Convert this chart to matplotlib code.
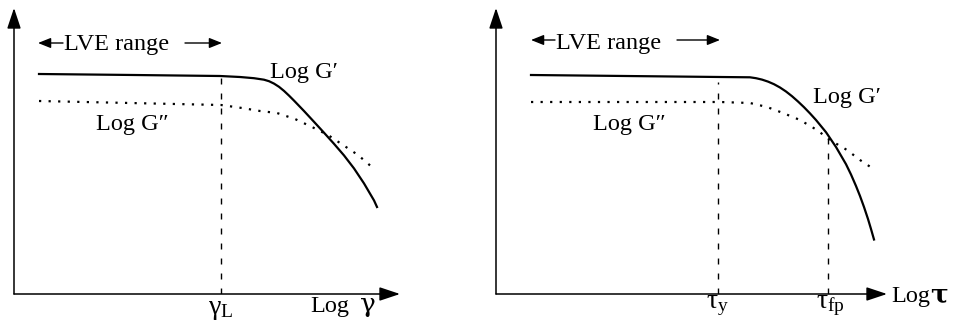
import matplotlib.pyplot as plt

plt.rcParams['font.family'] = ['Liberation Serif', 'DejaVu Serif']
plt.rcParams['mathtext.fontset'] = 'custom'
plt.rcParams['mathtext.rm'] = 'Liberation Serif'
plt.rcParams['mathtext.it'] = 'Liberation Serif:italic'

# amplitude sweep vs strain (schematic units, origin at the axes corner)
gamma_x_storage = [25, 120, 206, 226, 240, 250, 255, 260, 265, 270, 275,
                   280, 290, 300, 310, 320, 330, 340, 350, 360, 363]
gamma_storage = [220, 219, 218, 217, 215.8, 214.3, 212.8, 210.4, 207.2,
                 203.1, 198.4, 193.4, 183.0, 172.2, 161.3, 150.2, 138.6,
                 125.6, 110.6, 93.6, 87]
gamma_x_loss = [25, 207, 228, 246, 263, 281, 298, 314, 329, 344, 359]
gamma_loss = [193, 189, 186, 183, 181, 175, 167, 159, 149, 139, 126]
gamma_limit = 207
gamma_limit_top = 217

# amplitude sweep vs shear stress
tau_x_storage = [35, 224, 254, 260, 266, 272, 278, 284, 290, 296, 302,
                 308, 314, 320, 330, 340, 350, 355, 360, 364, 368, 372,
                 375, 378]
tau_storage = [219, 217, 216.7, 215.8, 214.4, 212.4, 209.8, 206.5, 202.5,
               197.8, 192.5, 186.8, 180.6, 174.0, 161.8, 147.0, 129.8,
               119.5, 108, 98, 87, 75, 65, 54.5]
tau_x_loss = [35, 224, 254, 271, 287, 304, 321, 334, 351, 364, 376]
tau_loss = [192, 192, 191, 187, 181, 174, 164, 154, 144, 134, 126]
tau_yield = 222
tau_yield_top = 212
tau_flow = 332
tau_flow_top = 157

FS = 17.5
W, H = 955, 331

fig = plt.figure(figsize=(W / 100, H / 100), dpi=100)


def panel(left, width, height=286, bottom=37):
    ax = fig.add_axes([left / W, bottom / H, width / W, height / H])
    ax.set_xlim(0, width)
    ax.set_ylim(0, height)
    ax.axis('off')
    head = dict(arrowstyle='-|>,head_length=0.9,head_width=0.3', lw=1.1,
                color='black', shrinkA=0, shrinkB=0, mutation_scale=14)
    ax.annotate('', xy=(width, 0), xytext=(0, 0), arrowprops=head,
                annotation_clip=False)
    ax.annotate('', xy=(0, height), xytext=(0, 0), arrowprops=head,
                annotation_clip=False)
    return ax


def lve_range(ax, x0, x1, x2, x3, y_arrow, y_text):
    small = dict(arrowstyle='-|>,head_length=0.55,head_width=0.22', lw=1.0,
                 color='black', shrinkA=0, shrinkB=0, mutation_scale=14)
    ax.annotate('', xy=(x0, y_arrow), xytext=(x1, y_arrow), arrowprops=small)
    ax.annotate('', xy=(x3, y_arrow), xytext=(x2, y_arrow), arrowprops=small)
    ax.text(x1 + 1, y_text, 'LVE range', fontsize=FS, ha='left', va='baseline')


solid = dict(color='black', lw=1.6, solid_joinstyle='round')
dotted = dict(color='black', lw=1.6, linestyle=(0, (1, 3.3)))
dashed = dict(color='black', lw=1.0, linestyle=(0, (4.3, 6.5)))

# left: strain sweep
ax1 = panel(14, 386)
ax1.plot(gamma_x_storage, gamma_storage, **solid)
ax1.plot(gamma_x_loss, gamma_loss, **dotted)
ax1.plot([gamma_limit, gamma_limit], [0, gamma_limit_top], **dashed)
lve_range(ax1, 24, 49, 171, 208, 251, 244)
ax1.text(256, 216, 'Log G′', fontsize=FS, ha='left', va='baseline')
ax1.text(82, 164, 'Log G″', fontsize=FS, ha='left', va='baseline')
ax1.text(gamma_limit, -20, r'$\mathrm{γ}_{\mathrm{L}}$', fontsize=20,
         ha='center', va='baseline')
ax1.text(296, -18, 'Log', fontsize=FS, ha='left', va='baseline')
ax1.text(346, -18, 'γ', fontsize=19, ha='left', va='baseline',
         family='DejaVu Serif')

# right: stress sweep
ax2 = panel(496, 391)
ax2.plot(tau_x_storage, tau_storage, **solid)
ax2.plot(tau_x_loss, tau_loss, **dotted)
ax2.plot([tau_yield, tau_yield], [0, tau_yield_top], **dashed)
ax2.plot([tau_flow, tau_flow], [0, tau_flow_top], **dashed)
lve_range(ax2, 35, 59, 181, 224, 254, 245)
ax2.text(317, 191, 'Log G′', fontsize=FS, ha='left', va='baseline')
ax2.text(97, 164, 'Log G″', fontsize=FS, ha='left', va='baseline')
ax2.text(tau_yield, -14, r'$\mathrm{τ}_{\mathrm{y}}$', fontsize=20,
         ha='center', va='baseline')
ax2.text(tau_flow + 2, -14, r'$\mathrm{τ}_{\mathrm{fp}}$', fontsize=20,
         ha='center', va='baseline')
ax2.text(395, -8, 'Log', fontsize=FS, ha='left', va='baseline')
ax2.text(434, -8, 'τ', fontsize=19, ha='left', va='baseline',
         family='DejaVu Serif', weight='bold')

fig.savefig('out.png', dpi=100, facecolor='white')
